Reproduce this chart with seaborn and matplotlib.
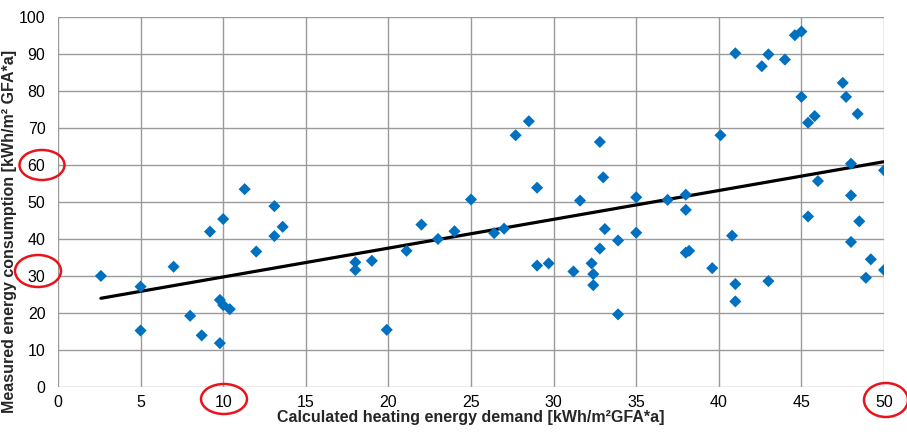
import numpy as np
import pandas as pd
import matplotlib
matplotlib.use("Agg")
import matplotlib.pyplot as plt
from matplotlib.patches import Ellipse
import seaborn as sns

# calculated heating demand vs measured consumption
demand = [2.6, 5.0, 5.0, 7.0, 8.0, 8.7, 9.2, 10.0, 9.8, 10.0, 10.4, 9.8, 12.0, 13.1, 13.1, 13.6, 11.3,
          18.0, 18.0, 19.0, 19.9, 21.1, 22.0, 23.0, 24.0, 25.0, 26.4, 27.0, 27.7, 28.5, 29.0, 29.0,
          29.7, 31.2, 31.6, 32.3, 32.4, 32.4, 32.8, 32.8, 33.0, 33.1, 33.9, 33.9,
          35.0, 35.0, 36.9, 38.0, 38.0, 38.0, 38.2, 39.6, 40.1, 40.8, 41.0, 41.0, 41.0,
          42.6, 43.0, 43.0, 44.0, 44.6, 45.0, 45.0, 45.4, 45.4, 45.8, 46.0,
          47.5, 47.7, 48.0, 48.0, 48.0, 48.4, 48.5, 48.9, 49.2, 50.0, 50.0]
measured = [30.0, 27.1, 15.2, 32.5, 19.2, 13.9, 42.0, 45.4, 23.5, 22.1, 21.0, 11.8, 36.6, 48.9, 40.8, 43.3, 53.5,
            33.7, 31.6, 34.1, 15.4, 36.8, 43.9, 40.0, 42.1, 50.7, 41.6, 42.8, 68.1, 71.9, 53.9, 32.8,
            33.4, 31.2, 50.4, 33.4, 30.5, 27.5, 37.4, 66.3, 56.7, 42.7, 39.6, 19.6,
            51.3, 41.7, 50.6, 52.0, 47.9, 36.3, 36.8, 32.1, 68.1, 40.9, 90.3, 27.8, 23.1,
            86.8, 90.0, 28.6, 88.6, 95.2, 96.2, 78.5, 71.5, 46.1, 73.3, 55.7,
            82.3, 78.5, 60.4, 51.8, 39.2, 73.9, 44.8, 29.5, 34.5, 58.6, 31.6]

df = pd.DataFrame({"demand": demand, "measured": measured})

sns.set_style("whitegrid")
plt.rcParams["font.family"] = ["Liberation Sans", "DejaVu Sans"]

fig = plt.figure(figsize=(9.07, 4.32), dpi=100)
ax = fig.add_axes([0.0639, 0.1049, 0.9108, 0.8546])

sns.scatterplot(data=df, x="demand", y="measured", marker="D", s=38,
                color="#0070C0", edgecolor="none", ax=ax, zorder=3)
sns.regplot(data=df, x="demand", y="measured", scatter=False, ci=None, truncate=True,
            color="black", line_kws={"linewidth": 2.3, "zorder": 2}, ax=ax)

ax.set_xlim(0, 50)
ax.set_ylim(0, 100)
ax.set_xticks(range(0, 51, 5))
ax.set_yticks(range(0, 101, 10))
ax.tick_params(axis="both", labelsize=11.5, colors="#000000", length=0)
ax.tick_params(axis="x", pad=6)
ax.tick_params(axis="y", pad=9)
ax.grid(True, color="#9a9a9a", linewidth=1)
for sp in ax.spines.values():
    sp.set_visible(False)

ax.set_xlabel("Calculated heating energy demand [kWh/m²GFA*a]", fontsize=11.5,
              fontweight="bold", labelpad=0)
ax.set_ylabel("Measured energy consumption [kWh/m² GFA*a]", fontsize=11.5, fontweight="bold")
ax.yaxis.set_label_coords(-0.05, 0.42)

# red highlight circles drawn on the chart
W, H = 907, 432
for cx, cy, w, h in [(42, 165, 45, 30), (38, 271, 46, 32), (224, 399, 46, 30), (886, 400, 44, 34)]:
    fig.patches.append(Ellipse((cx / W, 1 - cy / H), w / W, h / H, transform=fig.transFigure,
                               fill=False, edgecolor="#E8141B", linewidth=1.8))

plt.savefig("out.png", dpi=100)
